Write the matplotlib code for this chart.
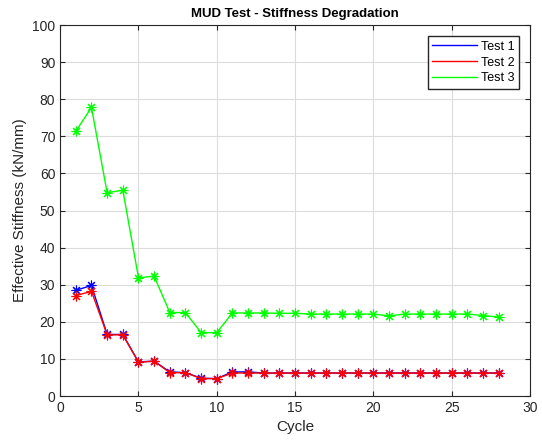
import matplotlib.pyplot as plt

plt.rcParams['font.family'] = ['Liberation Sans', 'DejaVu Sans']

cycles = list(range(1, 29))
test1 = [28.5, 29.8, 16.6, 16.6, 9.2, 9.4, 6.5, 6.3, 4.8, 4.7, 6.5, 6.5,
         6.2, 6.2, 6.2, 6.2, 6.2, 6.2, 6.2, 6.2, 6.2, 6.2, 6.2, 6.2, 6.2, 6.2, 6.2, 6.2]
test2 = [27.1, 28.2, 16.5, 16.5, 9.1, 9.4, 6.3, 6.3, 4.7, 4.7, 6.2, 6.2,
         6.2, 6.2, 6.2, 6.2, 6.2, 6.2, 6.2, 6.2, 6.2, 6.2, 6.2, 6.2, 6.2, 6.2, 6.2, 6.2]
test3 = [71.4, 77.8, 54.8, 55.5, 31.9, 32.3, 22.5, 22.5, 17.1, 17.1, 22.4, 22.4,
         22.4, 22.3, 22.3, 22.1, 22.1, 22.1, 22.1, 22.1, 21.6, 22.1, 22.1, 22.1,
         22.1, 22.1, 21.7, 21.3]

fig = plt.figure(figsize=(5.42, 4.41), dpi=100)
ax = fig.add_axes([0.111, 0.102, 0.867, 0.841])

ast = (8, 2, 0)
ax.plot(cycles, test1, color='#0000ff', lw=1, marker=ast, ms=7, mew=0.8, label='Test 1')
ax.plot(cycles, test2, color='#ff0000', lw=1, marker=ast, ms=7, mew=0.8, label='Test 2')
ax.plot(cycles, test3, color='#00ff00', lw=1, marker=ast, ms=7, mew=0.8, label='Test 3')

ax.set_xlim(0, 30)
ax.set_ylim(0, 100)
ax.set_xticks(range(0, 31, 5))
ax.set_yticks(range(0, 101, 10))
ax.grid(True, color='#dcdcdc', lw=0.8)
ax.set_axisbelow(True)
ax.tick_params(direction='in', top=True, right=True, labelsize=10, colors='#262626')
for s in ax.spines.values():
    s.set_color('#262626')

ax.set_xlabel('Cycle', fontsize=11, color='#262626')
ax.set_ylabel('Effective Stiffness (kN/mm)', fontsize=11, color='#262626')
ax.set_title('MUD Test - Stiffness Degradation', fontsize=9.5, fontweight='bold')

leg = ax.legend(loc='upper right', fontsize=9, handlelength=3.6, fancybox=False,
                edgecolor='#262626', framealpha=1, borderaxespad=0.9,
                labelspacing=0.3, handletextpad=0.3, borderpad=0.35)
for h in leg.legend_handles:
    h.set_marker('')

fig.savefig('out.png')
